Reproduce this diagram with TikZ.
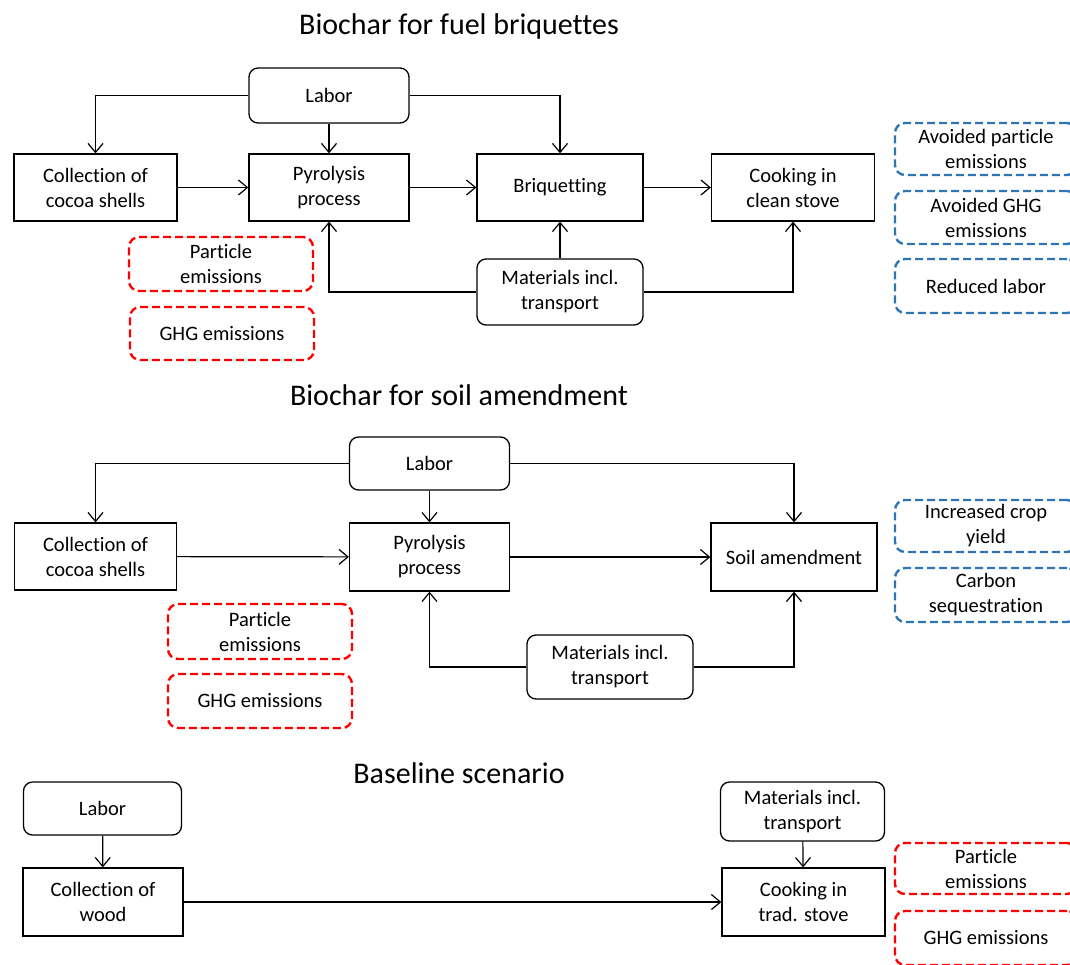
\documentclass[tikz,border=0pt]{standalone}
\usepackage{fontspec}
\setmainfont[Ligatures=NoCommon]{Carlito}
\usepackage{tikz}
\usetikzlibrary{arrows.meta,positioning}
\definecolor{gainblue}{RGB}{46,117,182}

\begin{document}
\begin{tikzpicture}[x=1pt,y=-1pt]
\tikzstyle{every node}=[font=\fontsize{20.5}{25}\selectfont, align=center, inner sep=0pt]
\tikzstyle{proc}=[rectangle, draw, line width=1.3pt]
\tikzstyle{inp}=[proc, rounded corners=9pt]
\tikzstyle{loss}=[rectangle, draw=red, line width=2.4pt, dash pattern=on 8pt off 4pt, rounded corners=10pt]
\tikzstyle{gain}=[loss, draw=gainblue]
\tikzstyle{flow}=[-{Straight Barb[length=9pt,width=15pt]}, line width=1.2pt]
\tikzstyle{ttl}=[font=\fontsize{30}{36}\selectfont]
\useasboundingbox (0,0) rectangle (1070,964);

% fuel briquettes
\node[ttl] (ttlA) at (459,27) {Biochar for fuel briquettes};
\node[inp, minimum width=160pt, minimum height=55pt] (labA) at (329,95.5) {Labor};
\node[proc, minimum width=163pt, minimum height=67pt] (colA) at (95.5,187.5) {Collection of\\cocoa shells};
\node[proc, minimum width=160pt, minimum height=67pt] (pyrA) at (329,187.5) {Pyrolysis\\process};
\node[proc, minimum width=166pt, minimum height=67pt] (briA) at (560,187.5) {Briquetting};
\node[proc, minimum width=163pt, minimum height=67pt] (cooA) at (793,187.5) {Cooking in\\clean stove};
\node[inp, minimum width=166pt, minimum height=66pt] (matA) at (560,292) {Materials incl.\\transport};
\node[loss, minimum width=184pt, minimum height=54pt] (parA) at (221,264) {Particle\\emissions};
\node[loss, minimum width=184pt, minimum height=53pt] (ghgA) at (222,333.5) {GHG emissions};
\node[gain, minimum width=182pt, minimum height=52pt] (avpA) at (986,149) {Avoided particle\\emissions};
\node[gain, minimum width=182pt, minimum height=53pt] (avgA) at (986,217.5) {Avoided GHG\\emissions};
\node[gain, minimum width=182pt, minimum height=54pt] (redA) at (986,286) {Reduced labor};
\draw[flow] (labA.west) -| (colA.north);
\draw[flow] (labA) -- (pyrA);
\draw[flow] (labA.east) -| (briA.north);
\draw[flow] (colA) -- (pyrA);
\draw[flow] (pyrA) -- (briA);
\draw[flow] (briA) -- (cooA);
\draw[flow] (matA.west) -| (pyrA.south);
\draw[flow] (matA) -- (briA);
\draw[flow] (matA.east) -| (cooA.south);

% soil amendment
\node[ttl] (ttlB) at (459,395) {Biochar for soil amendment};
\node[inp, minimum width=160pt, minimum height=53pt] (labB) at (429.5,463.5) {Labor};
\node[proc, minimum width=162pt, minimum height=67pt] (colB) at (95.5,556.5) {Collection of\\cocoa shells};
\node[proc, minimum width=160pt, minimum height=68pt] (pyrB) at (429.5,557) {Pyrolysis\\process};
\node[proc, minimum width=166pt, minimum height=68pt] (soiB) at (794,557) {Soil amendment};
\node[inp, minimum width=166pt, minimum height=64pt] (matB) at (610,667) {Materials incl.\\transport};
\node[loss, minimum width=184pt, minimum height=55pt] (parB) at (260,631.5) {Particle\\emissions};
\node[loss, minimum width=184pt, minimum height=54pt] (ghgB) at (260,701) {GHG emissions};
\node[gain, minimum width=182pt, minimum height=52pt] (incB) at (986,526) {Increased crop\\yield};
\node[gain, minimum width=182pt, minimum height=54pt] (carB) at (986,595) {Carbon\\sequestration};
\draw[flow] (labB.west) -| (colB.north);
\draw[flow] (labB) -- (pyrB);
\draw[flow] (labB.east) -| (soiB.north);
\draw[flow] (colB) -- (pyrB);
\draw[flow] (pyrB) -- (soiB);
\draw[flow] (matB.west) -| (pyrB.south);
\draw[flow] (matB.east) -| (soiB.south);

% baseline
\node[ttl] (ttlC) at (459,773) {Baseline scenario};
\node[inp, minimum width=158pt, minimum height=53pt] (labC) at (102.5,808.5) {Labor};
\node[proc, minimum width=160pt, minimum height=68pt] (colC) at (103,902) {Collection of\\wood};
\node[inp, minimum width=164pt, minimum height=59pt] (matC) at (802.5,811.5) {Materials incl.\\transport};
\node[proc, minimum width=163pt, minimum height=68pt] (cooC) at (803.5,902) {Cooking in\\trad. stove};
\node[loss, minimum width=182pt, minimum height=51pt] (parC) at (986,868.5) {Particle\\emissions};
\node[loss, minimum width=182pt, minimum height=54pt] (ghgC) at (986,938) {GHG emissions};
\draw[flow] (labC) -- (colC);
\draw[flow] (matC) -- (cooC);
\draw[flow] (colC) -- (cooC);
\end{tikzpicture}
\end{document}
